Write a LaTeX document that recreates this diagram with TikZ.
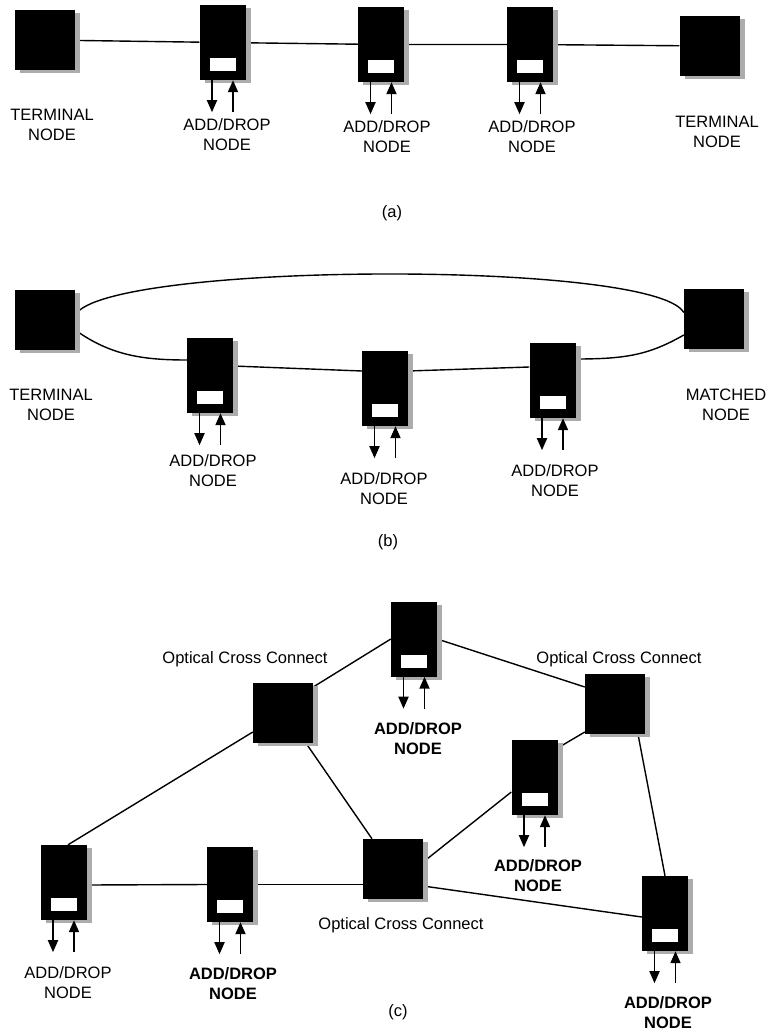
\documentclass[tikz,border=0pt]{standalone}
\usepackage{fontspec}
\setmainfont{Liberation Sans}
\usetikzlibrary{arrows.meta, positioning, shadows, backgrounds}

\begin{document}
\begin{tikzpicture}[
    x=1pt, y=-1pt,
    font=\fontsize{16.5}{20}\selectfont,
    nodebox/.style={fill=black, inner sep=0pt,
        general shadow={fill=gray!65, shadow xshift=5pt, shadow yshift=-3pt}},
    termbox/.style={nodebox, minimum width=60pt, minimum height=60pt},
    adbox/.style={nodebox, minimum width=46pt, minimum height=75pt},
    lbl/.style={align=center, inner sep=0pt},
    lblbold/.style={lbl, font=\fontsize{16.5}{20}\selectfont\bfseries},
    link/.style={line width=1.4pt},
    arrdown/.style={line width=1.8pt, -{Triangle[length=12pt, width=10pt]}},
    arrup/.style={line width=1.8pt, {Triangle[length=12pt, width=10pt]}-}
]
\useasboundingbox (0,0) rectangle (771,1030);

% (a) linear chain
\node[termbox] (termA1) at (45,40) {};
\node[adbox] (addA1) at (222.5,42.5) {};
\node[adbox] (addA2) at (381,44.5) {};
\node[adbox] (addA3) at (530,44.5) {};
\node[termbox] (termA2) at (709.5,46) {};

\node[lbl, below=39pt of termA1, xshift=7pt] (lblA1) {TERMINAL\\NODE};
\node[lbl, below=38.5pt of addA1, xshift=4.5pt] (lblA2) {ADD/DROP\\NODE};
\node[lbl, below=38.5pt of addA2, xshift=6pt] (lblA3) {ADD/DROP\\NODE};
\node[lbl, below=38.5pt of addA3, xshift=2pt] (lblA4) {ADD/DROP\\NODE};
\node[lbl, below=40pt of termA2, xshift=7.5pt] (lblA5) {TERMINAL\\NODE};
\node (capA) at (392,213) {(a)};

% (b) ring
\node[termbox] (termB) at (45,320) {};
\node[adbox] (addB1) at (210,375.5) {};
\node[adbox] (addB2) at (385,388.5) {};
\node[adbox] (addB3) at (552.5,380.5) {};
\node[termbox] (matchB) at (714,318.5) {};

\node[lbl, below=39pt of termB, xshift=6pt] (lblB1) {TERMINAL\\NODE};
\node[lbl, below=41pt of addB1, xshift=3pt] (lblB2) {ADD/DROP\\NODE};
\node[lbl, below=46pt of addB2, xshift=-1pt] (lblB3) {ADD/DROP\\NODE};
\node[lbl, below=46pt of addB3, xshift=2.5pt] (lblB4) {ADD/DROP\\NODE};
\node[lbl, below=40.5pt of matchB, xshift=12pt] (lblB5) {MATCHED\\NODE};
\node (capB) at (388,542) {(b)};

% (c) mesh
\node[termbox] (oxcLeft) at (283,713) {};
\node[adbox] (addTop) at (414,639) {};
\node[termbox] (oxcRight) at (615,704) {};
\node[adbox] (addMid) at (534.5,777.5) {};
\node[termbox] (oxcMid) at (393,869) {};
\node[adbox] (addRight) at (665,913.5) {};
\node[adbox] (addLeft) at (63.5,882.5) {};
\node[adbox] (addCenter) at (230,884.5) {};

\node[anchor=base] (lblOxcLeft) at (245,663) {Optical Cross Connect};
\node[anchor=base] (lblOxcRight) at (619,663) {Optical Cross Connect};
\node[anchor=base] (lblOxcMid) at (401,929) {Optical Cross Connect};
\node[lblbold, below=46pt of addTop, xshift=4pt] (lblC1) {ADD/DROP\\NODE};
\node[lblbold, below=44pt of addMid, xshift=3.5pt] (lblC2) {ADD/DROP\\NODE};
\node[lblbold, below=45pt of addRight, xshift=3pt] (lblC3) {ADD/DROP\\NODE};
\node[lbl, below=46pt of addLeft, xshift=4.5pt] (lblC4) {ADD/DROP\\NODE};
\node[lblbold, below=45pt of addCenter, xshift=3pt] (lblC5) {ADD/DROP\\NODE};
\node (capC) at (398,1012) {(c)};

% slot and add/drop arrows
\foreach \n in {addA1,addA2,addA3,addB1,addB2,addB3,addTop,addMid,addRight,addLeft,addCenter} {
    \fill[white] ([xshift=-13pt,yshift=9pt]\n.south) rectangle ([xshift=13pt,yshift=22pt]\n.south);
    \draw[arrdown] ([xshift=-10.5pt]\n.south) -- ++(0,32);
    \draw[arrup] ([xshift=10.5pt]\n.south) -- ++(0,32);
}

\begin{scope}[on background layer]
    % (a)
    \draw[link] (termA1) -- (addA1) -- (addA2) -- (addA3) -- (termA2);
    % (b)
    \draw[link] ([yshift=5pt]termB.east) .. controls +(30,-53) and +(-30,-53) .. ([yshift=6pt]matchB.west);
    \draw[link] ([yshift=-10pt]termB.east) .. controls +(35,25) and +(-45,0) .. ([yshift=15.5pt]addB1.west);
    \draw[link] ([yshift=9.5pt]addB1.east) -- ([yshift=17.5pt]addB2.west);
    \draw[link] ([yshift=17.5pt]addB2.east) -- ([yshift=13.5pt]addB3.west);
    \draw[link] ([yshift=21.5pt]addB3.east) .. controls +(50,0) and +(-35,20) .. ([yshift=-16.5pt]matchB.west);
    % (c)
    \draw[link] ([xshift=4.5pt]addLeft.north) -- ([yshift=-19pt]oxcLeft.west);
    \draw[link] ([yshift=26pt]oxcLeft.east) -- (addTop.west);
    \draw[link] (addTop.east) -- ([yshift=17pt]oxcRight.west);
    \draw[link] ([xshift=23pt]oxcLeft.south) -- ([xshift=-21pt]oxcMid.north);
    \draw[link] ([yshift=-2.5pt]addLeft.east) -- (addCenter.west);
    \draw[link] (addCenter.east) -- ([yshift=-15.5pt]oxcMid.west);
    \draw[link] ([yshift=7pt]oxcMid.east) -- ([yshift=-14.5pt]addMid.west);
    \draw[link] ([yshift=29.5pt]addMid.east) -- ([yshift=-28pt]oxcRight.west);
    \draw[link] ([yshift=-17pt]oxcMid.east) -- ([yshift=-3.5pt]addRight.west);
    \draw[link] ([xshift=23pt]oxcRight.south) -- (addRight.north);
\end{scope}
\end{tikzpicture}
\end{document}
